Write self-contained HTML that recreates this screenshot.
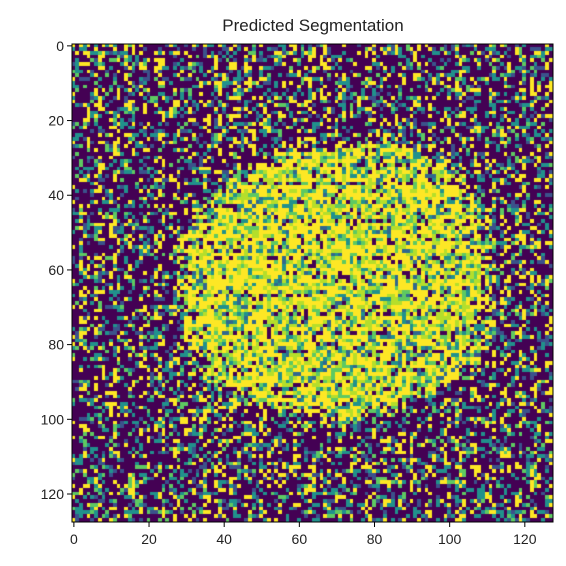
<!DOCTYPE html>
<html><head><meta charset="utf-8">
<style>
body{margin:0;background:#fff;width:566px;height:566px;overflow:hidden;font-family:"Liberation Sans","DejaVu Sans",sans-serif;}
#wrap{position:relative;width:566px;height:566px;}
canvas{position:absolute;left:72px;top:44px;}
.t{position:absolute;font-size:14px;color:#222;}
</style></head>
<body>
<div id="wrap">
<div class="t" style="left:0;width:626px;text-align:center;top:16px;font-size:17px;">Predicted Segmentation</div>
<canvas id="c" width="481" height="478"></canvas>
<svg id="ax" width="566" height="566" style="position:absolute;left:0;top:0"></svg>
</div>
<script>
// blob extents (data units) sampled at given rows
const blobRows   = [26, 28, 32, 40, 48, 56, 64, 72, 80, 88, 92, 96, 100];
const blobStarts = [80, 69, 48, 39, 32, 28, 28, 29, 31, 36, 42, 51, 70];
const blobEnds   = [82, 91, 99, 105,109,110,110,110,109,105, 97, 86, 72];
const xTicks = [0, 20, 40, 60, 80, 100, 120];
const yTicks = [0, 20, 40, 60, 80, 100, 120];
const N = 128;

const L=72, T=44, W=481, H=478;
const sx = v => L + (v + 0.5) * W / N;
const sy = v => T + (v + 0.5) * H / N;

function extent(r){
  if (r < blobRows[0] || r > blobRows[blobRows.length-1]) return null;
  for (let i=0;i<blobRows.length-1;i++){
    if (r>=blobRows[i] && r<=blobRows[i+1]){
      const f=(r-blobRows[i])/(blobRows[i+1]-blobRows[i]);
      return [blobStarts[i]+f*(blobStarts[i+1]-blobStarts[i]), blobEnds[i]+f*(blobEnds[i+1]-blobEnds[i])];
    }
  }
  return null;
}
function h(x,y){let n=(x*374761393+y*668265263)^0x5bd1e995;n=(n^(n>>>13))*1274126177;n=n^(n>>>16);return ((n>>>0)%1000)/1000;}

const ctx=document.getElementById('c').getContext('2d');
const cw=W/N, ch=H/N;
for(let r=0;r<N;r++){
  const e=extent(r);
  for(let c=0;c<N;c++){
    const v=h(c,r);
    const w=h(c+1000,r+77);
    let inside=false;
    if(e){
      const d=Math.min(c-e[0], e[1]-c);
      inside = d>=2 || (d>-3 && w < 0.5 + d*0.15);
    }
    let col;
    if(inside){
      let p=v;
      if(r%5===2) p=Math.min(0.999,p+0.15);
      col = p<0.5?'#fde725':p<0.66?'#b5de2b':p<0.78?'#5ec962':p<0.88?'#21918c':p<0.94?'#31688e':'#440154';
    } else {
      let p=v;
      if(c%4===1) p=p*0.8;
      col = p<0.52?'#440154':p<0.60?'#3b528b':p<0.74?'#21918c':p<0.79?'#5ec962':'#fde725';
    }
    ctx.fillStyle=col;
    ctx.fillRect(Math.floor(c*cw),Math.floor(r*ch),Math.ceil(cw)+1,Math.ceil(ch)+1);
  }
}

const svg=document.getElementById('ax');
const ns='http://www.w3.org/2000/svg';
const frame=document.createElementNS(ns,'rect');
frame.setAttribute('x',L);frame.setAttribute('y',T);frame.setAttribute('width',W);frame.setAttribute('height',H);
frame.setAttribute('fill','none');frame.setAttribute('stroke','#000');frame.setAttribute('stroke-width','1');


svg.appendChild(frame);
xTicks.forEach(v=>{
  const x=sx(v);
  const l=document.createElementNS(ns,'line');
  l.setAttribute('x1',x);l.setAttribute('x2',x);l.setAttribute('y1',T+H);l.setAttribute('y2',T+H+5);l.setAttribute('stroke','#000');
  
  
  svg.appendChild(l);
  const t=document.createElementNS(ns,'text');
  t.setAttribute('x',x);t.setAttribute('y',T+H+22);t.setAttribute('text-anchor','middle');t.setAttribute('font-size','14');t.setAttribute('fill','#222');
  t.textContent=v;
  
  
  svg.appendChild(t);
});
yTicks.forEach(v=>{
  const y=sy(v);
  const l=document.createElementNS(ns,'line');
  l.setAttribute('x1',L-5);l.setAttribute('x2',L);l.setAttribute('y1',y);l.setAttribute('y2',y);l.setAttribute('stroke','#000');
  
  
  svg.appendChild(l);
  const t=document.createElementNS(ns,'text');
  t.setAttribute('x',L-8);t.setAttribute('y',y+5);t.setAttribute('text-anchor','end');t.setAttribute('font-size','14');t.setAttribute('fill','#222');
  t.textContent=v;
  
  
  svg.appendChild(t);
});
</script>
</body></html>
